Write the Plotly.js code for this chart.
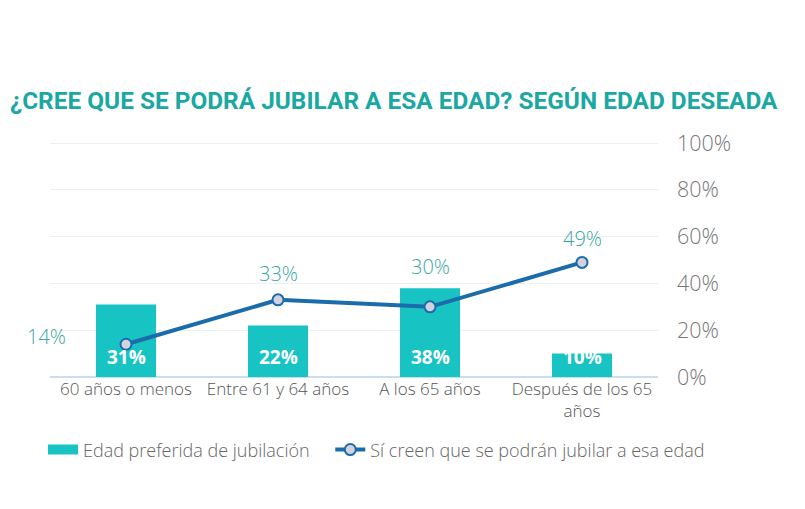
<!DOCTYPE html>
<html>
<head>
<meta charset="utf-8">
<script src="https://cdn.plot.ly/plotly-3.0.1.min.js"></script>
<style>html,body{margin:0;padding:0;background:#fff;}#chart{width:805px;height:509px;}</style>
</head>
<body>
<div id="chart"></div>
<script>
const categories = ["60 años o menos", "Entre 61 y 64 años", "A los 65 años", "Después de los 65<br>años"];
const preferredAge = [31, 22, 38, 10];
const believeCanRetire = [14, 33, 30, 49];
const yTickVals = [0, 20, 40, 60, 80, 100];
const yTickText = ["0%", "20%", "40%", "60%", "80%", "100%"];
const seriesNames = ["Edad preferida de jubilación", "Sí creen que se podrán jubilar a esa edad"];
const titleText = "¿CREE QUE SE PODRÁ JUBILAR A ESA EDAD? SEGÚN EDAD DESEADA";

const FONT = "'Open Sans', Lato, sans-serif";
const TEAL = "#17c3c3";
const BLUE = "#1b6cab";
const LABEL = "#3aa7a3";

// offsets for line value labels (style only)
const lineLabelShift = [[-80, 8], [0, 26], [0, 40], [0, 24]];

const annotations = [];
categories.forEach((c, i) => {
  annotations.push({
    x: c, y: 0, xref: "x", yref: "y", showarrow: false,
    text: preferredAge[i] + "%", yanchor: "bottom", yshift: 5,
    font: {family: FONT, size: 19, color: "#ffffff", weight: 700}
  });
  annotations.push({
    x: c, y: believeCanRetire[i], xref: "x", yref: "y", showarrow: false,
    text: believeCanRetire[i] + "%", xshift: lineLabelShift[i][0], yshift: lineLabelShift[i][1],
    font: {family: FONT, size: 20, color: LABEL, weight: 300}
  });
});

const traces = [
  {
    type: "bar", x: categories, y: preferredAge, name: seriesNames[0],
    marker: {color: TEAL}, width: 0.395, hoverinfo: "skip",
    showlegend: false, legendgroup: "bars"
  },
  {
    // legend swatch for the bars (wide rectangle like the original)
    type: "scatter", mode: "lines", x: [null], y: [null], name: seriesNames[0],
    line: {color: TEAL, width: 12}, legendgroup: "bars", hoverinfo: "skip",
    legend: "legend"
  },
  {
    type: "scatter", mode: "lines+markers", x: categories, y: believeCanRetire, name: seriesNames[1],
    line: {color: BLUE, width: 4},
    marker: {size: 11, color: "#d3d3e0", line: {color: BLUE, width: 2}}, hoverinfo: "skip",
    legend: "legend2"
  }
];

const legendFont = {family: FONT, size: 18, color: "#666", weight: 300};

const layout = {
  width: 805, height: 509,
  margin: {l: 50, r: 147, t: 142, b: 132},
  paper_bgcolor: "#ffffff", plot_bgcolor: "#ffffff",
  font: {family: FONT, color: "#666"},
  title: {
    text: titleText, x: 10/805, xanchor: "left", xref: "container",
    y: 1 - 100/509, yanchor: "middle", yref: "container",
    font: {family: "Roboto, sans-serif", size: 24.4, color: "#1ba8a3", weight: 700}
  },
  xaxis: {
    type: "category", range: [-0.5, 3.5], autorange: false,
    showgrid: false, zeroline: false, showline: false,
    tickfont: {family: FONT, size: 17, color: "#555", weight: 300},
    ticks: "", automargin: false
  },
  yaxis: {
    side: "right", range: [0, 100.5], autorange: false, tickvals: yTickVals, ticktext: yTickText,
    showgrid: true, gridcolor: "#efefef", gridwidth: 1,
    zeroline: true, zerolinecolor: "#c9def0", zerolinewidth: 1.5,
    tickfont: {family: FONT, size: 21.5, color: "#777", weight: 300},
    ticks: "", ticklabelstandoff: 18, automargin: false, fixedrange: true
  },
  showlegend: true,
  legend: {
    orientation: "h", x: -0.0115, xanchor: "left", y: -0.31, yanchor: "middle",
    font: legendFont, bgcolor: "rgba(0,0,0,0)"
  },
  legend2: {
    orientation: "h", x: 0.461, xanchor: "left", y: -0.31, yanchor: "middle",
    font: legendFont, bgcolor: "rgba(0,0,0,0)"
  },
  annotations: annotations
};

Plotly.newPlot("chart", traces, layout, {displayModeBar: false, staticPlot: true});
</script>
</body>
</html>
